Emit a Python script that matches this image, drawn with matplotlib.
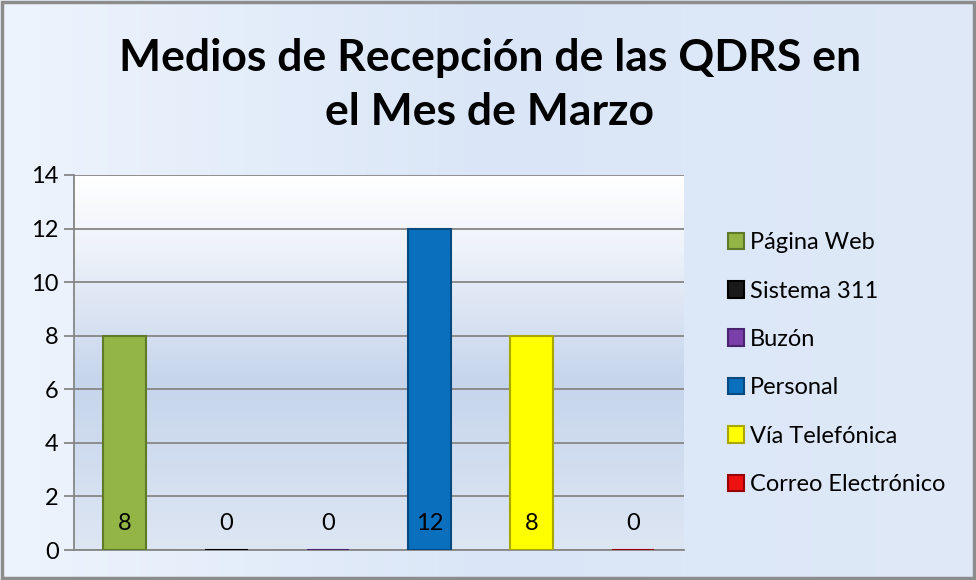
import numpy as np
import matplotlib
matplotlib.use("Agg")
import matplotlib.pyplot as plt
from matplotlib.patches import Rectangle
from matplotlib.colors import LinearSegmentedColormap

plt.rcParams['font.family'] = ['Lato', 'DejaVu Sans']

# datos
categorias = ['Página Web', 'Sistema 311', 'Buzón', 'Personal',
              'Vía Telefónica', 'Correo Electrónico']
valores = [8, 0, 0, 12, 8, 0]
colores = ['#93b546', '#1a1a1a', '#7a3fa8', '#0a6fbd', '#ffff00', '#ee1111']
bordes = ['#5f7a28', '#000000', '#4b2470', '#064a80', '#a8a800', '#990000']
yticks = [0, 2, 4, 6, 8, 10, 12, 14]
titulo = 'Medios de Recepción de las QDRS en\nel Mes de Marzo'

fig = plt.figure(figsize=(9.76, 5.80), dpi=100)

# fondo del gráfico (degradado)
bg = fig.add_axes([0, 0, 1, 1], zorder=-10)
bg_cmap = LinearSegmentedColormap.from_list('bg', ['#eef4fd', '#dae6f7', '#dfe9f8'])
grad = np.tile(np.linspace(0, 1, 256), (16, 1))
bg.imshow(grad, cmap=bg_cmap, aspect='auto', extent=[0, 1, 0, 1])
bg.set_xlim(0, 1)
bg.set_ylim(0, 1)
bg.axis('off')
fig.patches.append(Rectangle((0.002, 0.003), 0.996, 0.994, transform=fig.transFigure,
                             fill=False, edgecolor='#8c8c8c', linewidth=2.5))

ax = fig.add_axes([0.0758, 0.0517, 0.625, 0.6466])
x = np.arange(len(categorias))

# área de trazado con degradado
pa_cmap = LinearSegmentedColormap.from_list(
    'pa', [(0, '#dde6f3'), (0.45, '#c6d5ec'), (0.8, '#eef2f9'), (1, '#ffffff')])
ax.imshow(np.linspace(0, 1, 256).reshape(-1, 1), cmap=pa_cmap, aspect='auto',
          extent=[-0.5, len(categorias) - 0.5, 0, 14], origin='lower', zorder=0)

for i in range(len(categorias)):
    ax.bar(x[i], valores[i], width=0.42, color=colores[i], edgecolor=bordes[i],
           linewidth=1.5, label=categorias[i], zorder=3)
    ax.text(x[i], 1.0, str(valores[i]), ha='center', va='center', fontsize=17,
            color='black', zorder=4)

ax.set_xlim(-0.5, len(categorias) - 0.5)
ax.set_ylim(0, 14)
ax.set_yticks(yticks)
ax.set_yticklabels([str(v) for v in yticks], fontsize=17)
ax.set_xticks([])
ax.grid(axis='y', color='#868686', linewidth=1.3, zorder=1)
ax.tick_params(axis='y', length=7, width=1.3, color='#868686', pad=4)
for s in ['top', 'right']:
    ax.spines[s].set_visible(False)
for s in ['left', 'bottom']:
    ax.spines[s].set_color('#868686')
    ax.spines[s].set_linewidth(1.3)

fig.text(0.502, 0.854, titulo, ha='center', va='center', fontsize=32,
         fontweight='bold', linespacing=1.42)

ax.legend(loc='center left', bbox_to_anchor=(1.037, 0.497), frameon=False,
          fontsize=17, labelspacing=1.16, handlelength=0.7, handleheight=0.7,
          handletextpad=0.25)

fig.savefig('out.png', dpi=100)
